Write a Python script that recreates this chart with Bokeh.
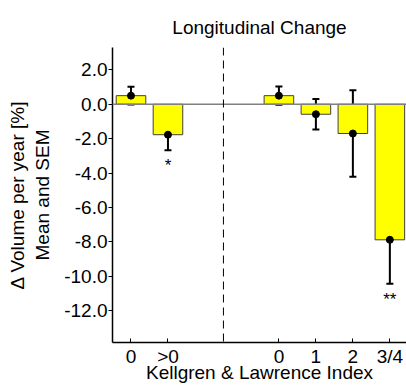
from bokeh.plotting import figure
from bokeh.models import ColumnDataSource, FixedTicker, Span, Whisker, TeeHead, Range1d
from bokeh.embed import file_html
from bokeh.resources import INLINE
from bokeh.core.properties import value

# ---- data ----
positions = [1, 2, 5, 6, 7, 8]
tick_labels = ["0", ">0", "0", "1", "2", "3/4"]
means = [0.5, -1.77, 0.5, -0.58, -1.7, -7.88]
sems = [0.52, 0.9, 0.53, 0.88, 2.52, 2.55]
signif = ["", "*", "", "", "", "**"]
y_ticks = [-12, -10, -8, -6, -4, -2, 0, 2]

FONT = "Liberation Sans"
FS = "19px"

upper = [m + s for m, s in zip(means, sems)]
lower = [m - s for m, s in zip(means, sems)]
star_y = [lo - 0.9 for lo in lower]

src = ColumnDataSource(dict(x=positions, mean=means, upper=upper, lower=lower,
                            sig=signif, sy=star_y))

p = figure(width=406, height=387, output_backend="svg", toolbar_location=None,
           x_range=Range1d(0.5, 8.45), y_range=Range1d(-13.85, 3.3),
           min_border_left=112, min_border_right=0, min_border_top=47,
           min_border_bottom=45, title="Longitudinal Change")
p.outline_line_color = None
p.xgrid.visible = False
p.ygrid.visible = False
p.background_fill_color = "white"

p.title.align = "center"
p.title.text_font = FONT
p.title.text_font_size = FS
p.title.text_font_style = "normal"
p.title.text_color = "black"
p.title.standoff = 20

p.vbar(x="x", top="mean", bottom=0, width=0.8, source=src,
       fill_color="#ffff00", line_color="#404040", line_width=1)

p.add_layout(Span(location=0, dimension="width", line_color="#808080", line_width=1.5))
p.add_layout(Span(location=3.5, dimension="height", line_color="black",
                  line_width=1, line_dash="8 5"))

w = Whisker(base="x", upper="upper", lower="lower", source=src,
            line_color="black", line_width=2,
            upper_head=TeeHead(size=7, line_color="black", line_width=2),
            lower_head=TeeHead(size=7, line_color="black", line_width=2))
p.add_layout(w)

p.scatter(x="x", y="mean", size=7, color="black", source=src)

p.text(x="x", y="sy", text="sig", source=src, text_align="center",
       text_baseline="middle", text_font=value(FONT), text_font_size="17px",
       text_color="black")

# axes
p.xaxis.ticker = FixedTicker(ticks=positions)
p.xaxis.major_label_overrides = {pos: lab for pos, lab in zip(positions, tick_labels)}
p.xaxis.minor_tick_line_color = None
p.xaxis.major_tick_in = 4
p.xaxis.major_tick_out = 0
p.xaxis.major_label_standoff = 3
p.xaxis.axis_label = "Kellgren & Lawrence Index"
p.xaxis.axis_label_standoff = -8

p.yaxis.ticker = FixedTicker(ticks=y_ticks)
p.yaxis.major_label_overrides = {t: f"{t:.1f}" for t in y_ticks}
p.yaxis.minor_tick_line_color = None
p.yaxis.major_tick_in = 0
p.yaxis.major_tick_out = 4
p.yaxis.major_label_standoff = 1
p.yaxis.axis_label = "\u0394 Volume per year [%]\nMean and SEM"
p.yaxis.axis_label_standoff = 8

for ax in (p.xaxis, p.yaxis):
    ax.axis_line_color = "black"
    ax.axis_line_width = 1.5
    ax.major_tick_line_color = "black"
    ax.major_label_text_font = FONT
    ax.major_label_text_font_size = FS
    ax.major_label_text_color = "black"
    ax.axis_label_text_font = FONT
    ax.axis_label_text_font_size = FS
    ax.axis_label_text_font_style = "normal"
    ax.axis_label_text_color = "black"

open("out.html", "w").write(file_html(p, INLINE))
